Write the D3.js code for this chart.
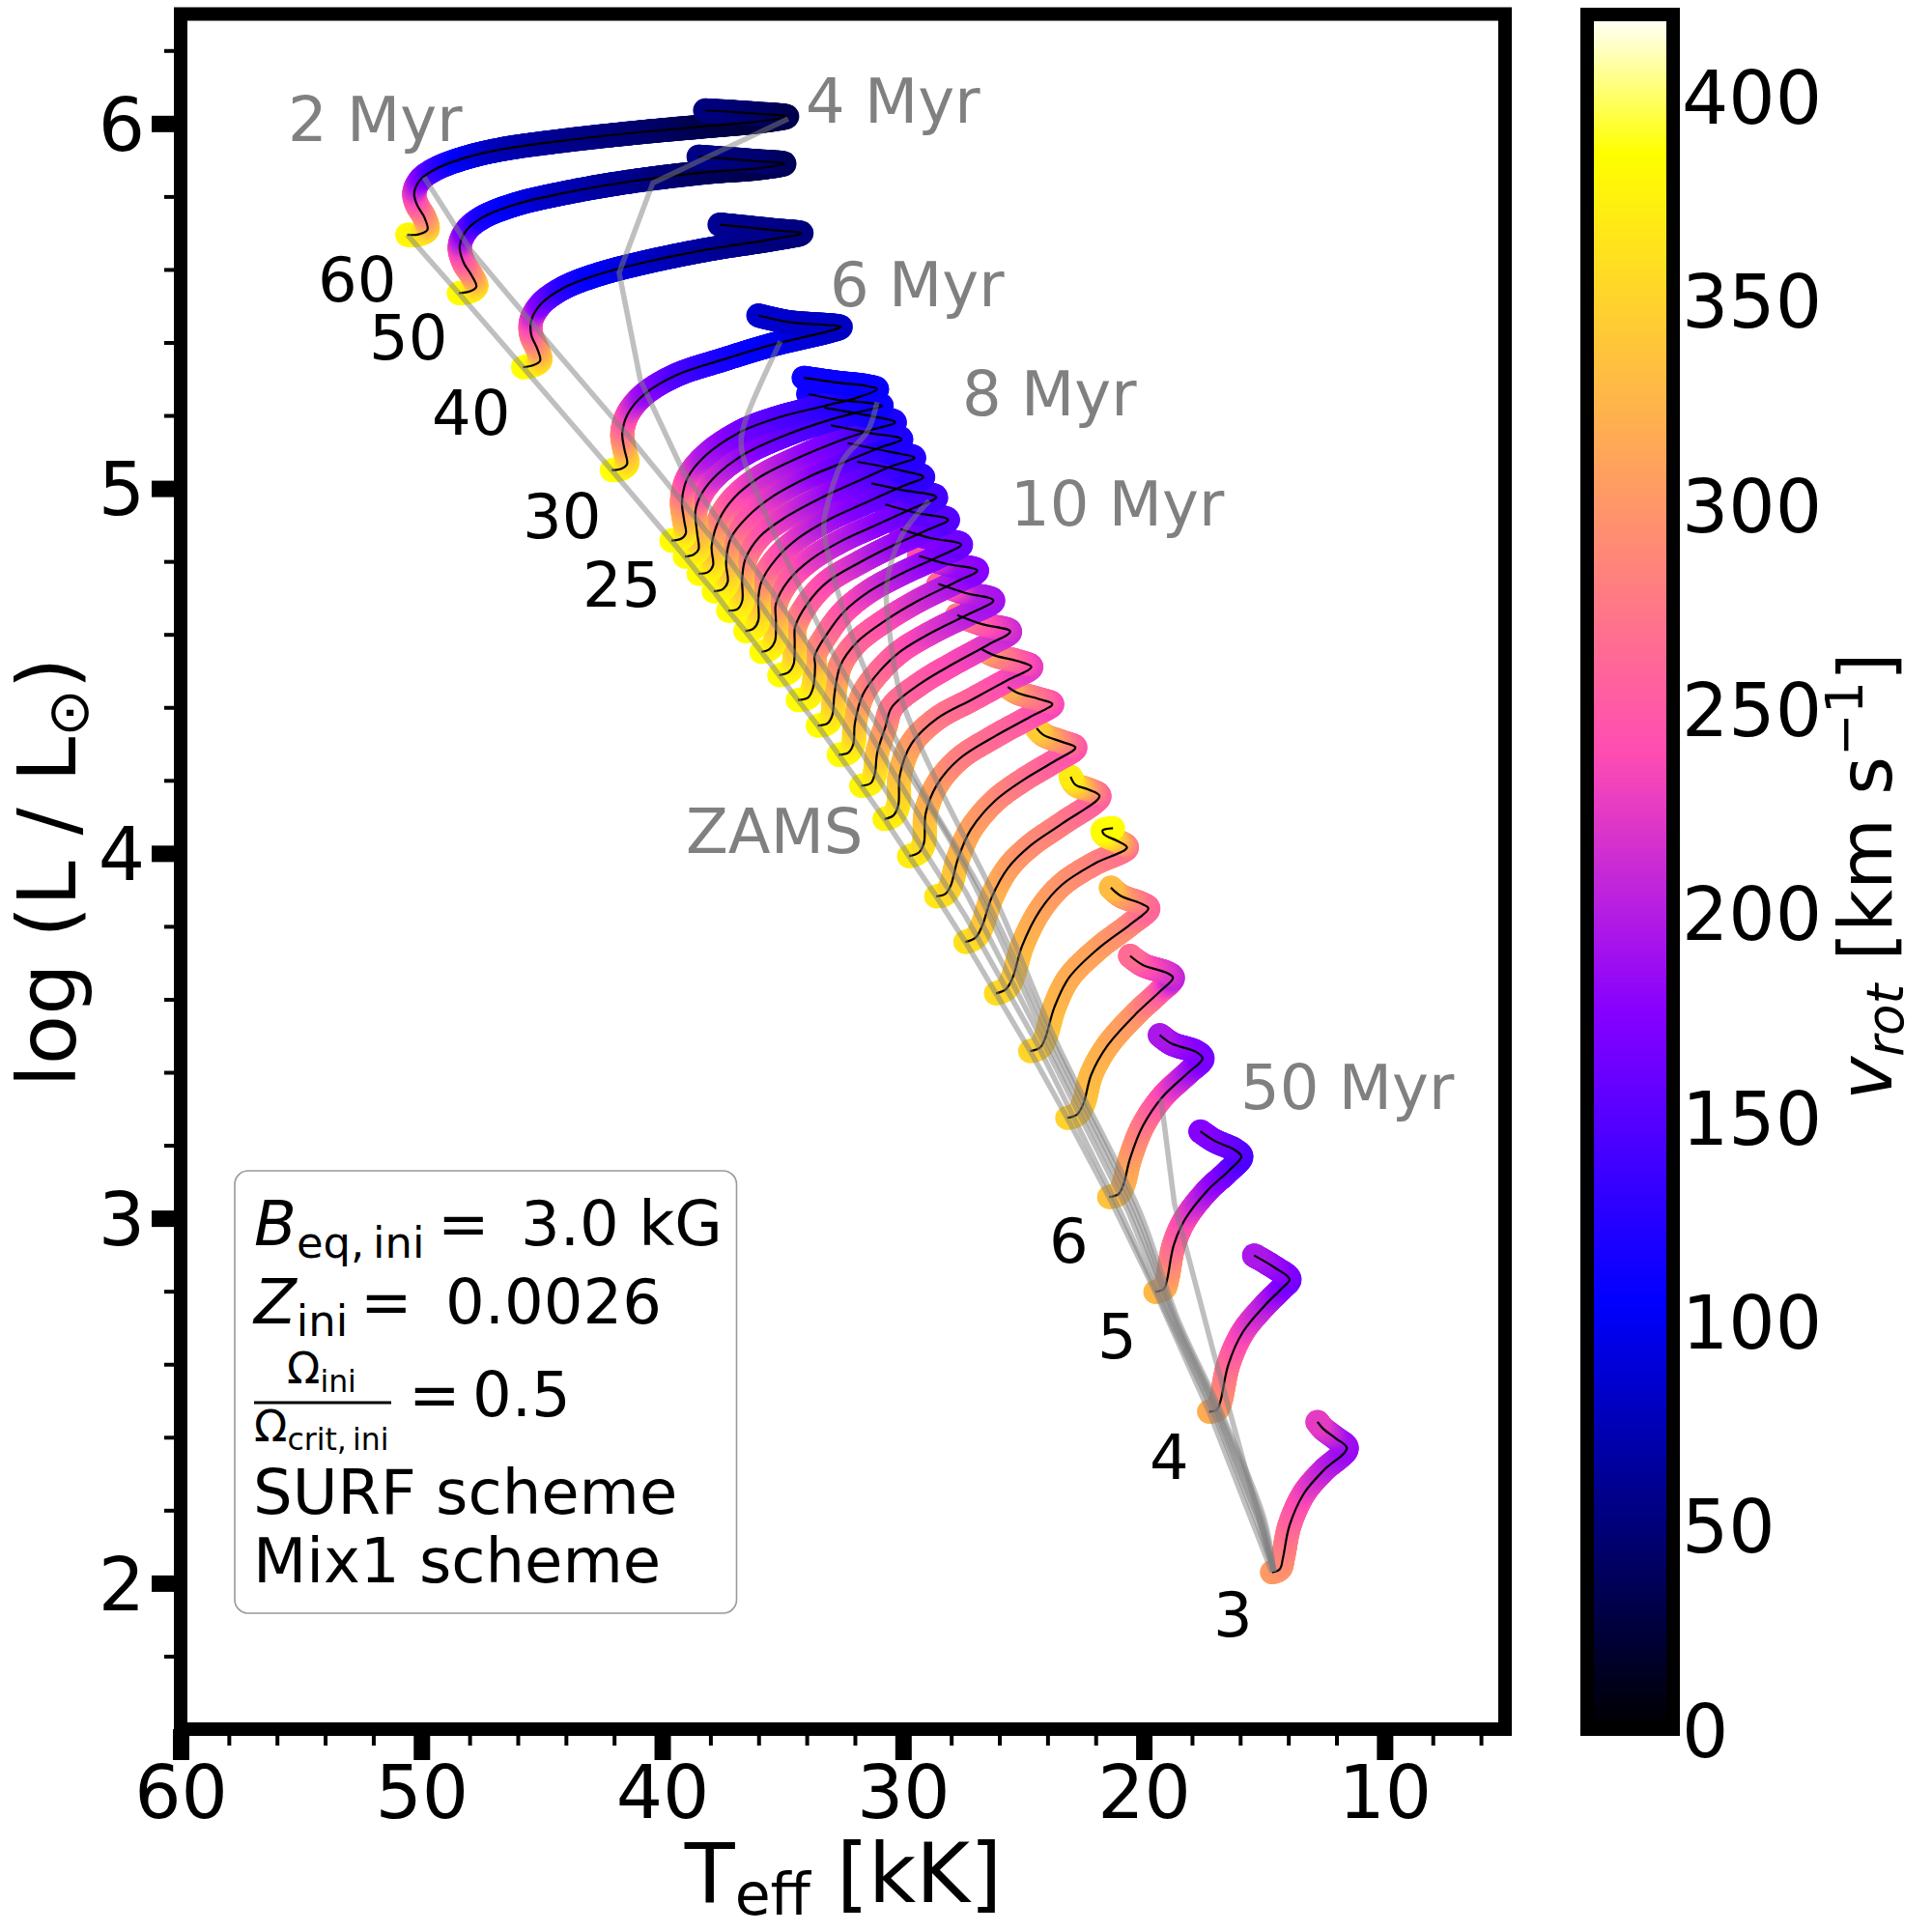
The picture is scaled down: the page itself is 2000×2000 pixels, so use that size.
<!DOCTYPE html>
<html>
<head>
<meta charset="utf-8">
<script src="https://d3js.org/d3.v7.min.js"></script>
<style>
  body { margin: 0; background: #fff; }
  text { font-family: "DejaVu Sans"; }
</style>
</head>
<body>
<svg id="chart" width="2000" height="2000"></svg>
<script>
// evolutionary tracks, one set of arrays per initial mass: Teff [kK], log L, vrot [km/s]
var T3 = [14.68,14.35,14.22,13.95,13.35,12.55,11.57,12.01,12.55,12.79];
var L3 = [2.030,2.039,2.070,2.158,2.246,2.308,2.370,2.396,2.423,2.442];
var V3 = [305,300,290,265,235,210,185,190,215,225];
var T4 = [17.29,16.96,16.82,16.49,15.89,14.95,14.28,13.95,14.55,15.42];
var L4 = [2.470,2.476,2.498,2.599,2.688,2.763,2.807,2.833,2.864,2.898];
var V4 = [320,315,300,270,235,205,180,165,180,195];
var T5 = [19.52,19.16,19.03,18.76,18.29,17.36,16.49,15.95,16.22,17.09,17.65];
var L5 = [2.798,2.807,2.833,2.926,2.997,3.076,3.129,3.169,3.187,3.213,3.238];
var V5 = [330,325,310,270,240,195,165,145,150,165,175];
var T6 = [21.44,21.04,20.84,20.57,20.04,19.23,18.17,17.56,17.83,18.83,19.34];
var L6 = [3.058,3.067,3.094,3.164,3.253,3.332,3.398,3.438,3.456,3.478,3.502];
var V6 = [338,335,325,310,280,245,200,170,170,185,195];
var T7 = [23.18,22.78,22.51,22.18,21.51,20.30,19.37,18.79,19.03,20.04,20.57];
var L7 = [3.275,3.284,3.314,3.394,3.473,3.562,3.619,3.659,3.672,3.694,3.719];
var V7 = [350,348,340,330,320,300,260,205,215,240,265];
var T8 = [24.72,24.32,24.11,23.71,23.11,21.91,20.57,19.81,20.10,20.97,21.37];
var L8 = [3.458,3.467,3.491,3.579,3.659,3.738,3.805,3.849,3.862,3.884,3.906];
var V8 = [352,350,345,330,320,310,290,260,265,300,330];
var T9 = [26.14,25.72,25.45,25.05,24.31,23.38,22.04,20.70,21.10,21.64,21.71,21.28];
var L9 = [3.616,3.628,3.659,3.747,3.844,3.915,3.972,4.016,4.034,4.051,4.063,4.069];
var V9 = [358,355,345,330,315,300,285,270,320,370,385,385];
var T10 = [27.41,26.99,26.72,26.32,25.65,24.71,23.38,21.84,22.31,22.84,23.04];
var L10 = [3.757,3.769,3.800,3.879,3.959,4.021,4.082,4.157,4.175,4.188,4.210];
var V10 = [362,360,345,330,310,295,280,255,290,340,370];
var T11 = [28.62,28.26,28.03,27.72,27.19,26.18,24.98,23.64,22.84,23.38,24.18,24.45];
var L11 = [3.882,3.888,3.910,3.985,4.065,4.144,4.202,4.255,4.290,4.305,4.325,4.343];
var V11 = [368,365,352,332,312,295,275,255,245,275,320,345];
var T12 = [29.75,29.33,29.13,29.06,28.59,27.66,26.18,24.71,23.80,24.31,25.25,25.65];
var L12 = [3.992,4.003,4.029,4.109,4.188,4.259,4.321,4.374,4.409,4.422,4.440,4.456];
var V12 = [372,370,358,335,310,285,265,250,235,260,290,320];
var T13 = [30.77,30.40,30.20,30.13,29.66,28.59,27.12,25.65,24.67,25.25,26.18,26.72];
var L13 = [4.094,4.104,4.131,4.215,4.299,4.369,4.422,4.475,4.511,4.527,4.542,4.559];
var V13 = [378,376,365,338,310,280,260,240,225,245,280,310];
var T14 = [31.74,31.33,31.17,31.07,30.73,30.47,29.26,27.92,26.45,25.55,26.72,27.75];
var L14 = [4.185,4.193,4.219,4.276,4.347,4.400,4.466,4.519,4.572,4.608,4.628,4.653];
var V14 = [380,378,368,340,305,275,255,240,225,210,240,280];
var T15 = [32.67,32.27,32.07,32.00,31.67,31.00,30.07,28.73,27.26,26.25,27.39,28.53];
var L15 = [4.270,4.276,4.298,4.356,4.435,4.497,4.555,4.608,4.656,4.693,4.713,4.738];
var V15 = [385,383,372,342,300,270,250,225,205,190,200,260];
var T16 = [33.54,33.14,32.94,32.85,32.60,31.94,30.73,29.40,27.79,26.92,28.19,29.33];
var L16 = [4.350,4.356,4.378,4.435,4.515,4.577,4.638,4.691,4.744,4.775,4.793,4.815];
var V16 = [385,383,372,342,295,265,245,220,195,175,185,240];
var T17 = [34.37,33.94,33.74,33.65,33.67,33.14,32.47,31.40,30.07,28.46,27.59,28.86,30.10];
var L17 = [4.420,4.427,4.453,4.515,4.541,4.603,4.661,4.718,4.766,4.815,4.846,4.864,4.888];
var V17 = [385,383,372,340,315,275,250,225,200,175,160,170,190];
var T18 = [35.14,34.74,34.54,34.50,34.48,33.94,33.14,31.80,30.47,29.00,28.13,29.53,30.73];
var L18 = [4.488,4.497,4.519,4.577,4.621,4.687,4.744,4.797,4.842,4.886,4.914,4.934,4.956];
var V18 = [385,383,372,338,312,265,240,215,190,165,150,155,165];
var T19 = [35.88,35.55,35.32,35.28,35.28,34.74,33.81,32.47,31.00,29.53,28.62,30.07,31.31];
var L19 = [4.552,4.559,4.581,4.638,4.683,4.749,4.806,4.859,4.903,4.947,4.976,4.996,5.014];
var V19 = [385,383,372,336,305,260,230,205,180,155,140,145,150];
var T20 = [36.55,36.21,36.01,36.01,35.88,35.28,34.34,33.01,31.54,30.07,29.16,30.07,31.90];
var L20 = [4.609,4.616,4.638,4.700,4.744,4.806,4.864,4.917,4.961,5.005,5.031,5.049,5.073];
var V20 = [385,383,372,336,302,255,225,195,170,145,130,130,135];
var T21 = [37.26,36.88,36.68,36.68,36.55,35.95,34.88,33.41,31.94,30.47,29.53,30.47,32.31];
var L21 = [4.665,4.669,4.691,4.753,4.806,4.868,4.921,4.974,5.018,5.061,5.084,5.099,5.124];
var V21 = [385,383,372,334,298,255,225,195,165,140,125,125,130];
var T22 = [37.86,37.48,37.28,37.35,37.15,36.48,35.41,33.94,32.47,31.00,30.07,31.40,33.00];
var L22 = [4.718,4.724,4.744,4.797,4.864,4.921,4.978,5.031,5.071,5.111,5.135,5.152,5.173];
var V22 = [385,383,372,334,295,255,225,190,160,135,120,122,125];
var T23 = [38.49,38.09,37.89,37.95,37.62,37.02,35.95,34.34,32.74,31.27,30.33,31.40,33.27];
var L23 = [4.766,4.771,4.789,4.842,4.917,4.974,5.031,5.084,5.128,5.161,5.181,5.199,5.221];
var V23 = [385,383,372,334,292,250,220,190,165,140,122,115,118];
var T24 = [39.06,38.69,38.49,38.55,38.62,38.35,37.69,36.48,34.88,33.14,31.67,30.87,31.40,32.74,33.94];
var L24 = [4.813,4.819,4.833,4.877,4.939,4.987,5.040,5.098,5.146,5.186,5.212,5.226,5.234,5.243,5.259];
var V24 = [385,383,372,336,300,250,215,185,160,140,120,112,112,112,114];
var T25 = [39.62,39.22,39.02,39.09,39.18,38.96,38.22,36.75,35.15,33.27,31.94,31.07,31.54,32.74,34.12];
var L25 = [4.857,4.862,4.877,4.912,4.965,5.027,5.089,5.155,5.195,5.226,5.248,5.272,5.281,5.290,5.303];
var V25 = [385,383,372,336,298,245,200,170,150,130,115,110,110,110,112];
var T30 = [42.10,41.70,41.46,41.57,41.66,41.43,40.76,39.43,37.42,35.42,33.01,32.58,34.77,36.01];
var L30 = [5.050,5.054,5.067,5.107,5.151,5.204,5.257,5.310,5.354,5.394,5.432,5.442,5.456,5.474];
var V30 = [390,385,368,330,285,240,190,150,120,100,85,80,82,85];
var T40 = [45.78,45.38,45.07,45.18,45.44,45.44,45.04,44.11,42.77,40.76,38.09,35.42,34.21,35.42,37.62];
var L40 = [5.332,5.337,5.350,5.381,5.421,5.460,5.505,5.549,5.584,5.619,5.655,5.683,5.699,5.708,5.723];
var V40 = [388,385,360,320,275,235,180,130,105,85,65,52,50,55,60];
var T50 = [48.45,47.98,47.72,47.92,48.25,48.41,48.12,47.45,46.11,44.11,41.43,38.09,36.08,34.91,36.08,38.49];
var L50 = [5.535,5.540,5.553,5.584,5.619,5.664,5.708,5.743,5.778,5.809,5.840,5.867,5.877,5.890,5.897,5.909];
var V50 = [385,382,362,310,268,230,170,120,100,78,60,40,32,35,45,55];
var T60 = [50.59,50.12,49.75,49.88,50.19,50.30,50.06,49.45,48.38,46.78,44.11,40.76,38.09,36.08,34.81,36.08,38.22];
var L60 = [5.695,5.696,5.709,5.743,5.778,5.809,5.845,5.874,5.902,5.928,5.953,5.977,5.993,6.005,6.019,6.027,6.036];
var V60 = [382,378,355,305,265,235,190,140,105,78,60,46,32,26,30,40,52];

var masses = [3,4,5,6,7,8,9,10,11,12,13,14,15,16,17,18,19,20,21,22,23,24,25,30,40,50,60];
var trackT = [T3,T4,T5,T6,T7,T8,T9,T10,T11,T12,T13,T14,T15,T16,T17,T18,T19,T20,T21,T22,T23,T24,T25,T30,T40,T50,T60];
var trackL = [L3,L4,L5,L6,L7,L8,L9,L10,L11,L12,L13,L14,L15,L16,L17,L18,L19,L20,L21,L22,L23,L24,L25,L30,L40,L50,L60];
var trackV = [V3,V4,V5,V6,V7,V8,V9,V10,V11,V12,V13,V14,V15,V16,V17,V18,V19,V20,V21,V22,V23,V24,V25,V30,V40,V50,V60];

// isochrones
var iso2T = [49.89,47.97,45.04,41.15,37.30,32.60,27.39,24.46,20.97,18.97,17.12,15.36,14.60];
var iso2L = [5.853,5.654,5.424,5.124,4.812,4.369,3.826,3.482,3.018,2.727,2.470,2.176,2.032];
var iso4T = [34.77,40.39,41.79,40.91,39.10,35.41,31.40,27.39,24.18,20.65,18.85,17.04,15.24,14.60];
var iso4L = [6.013,5.837,5.591,5.297,5.042,4.714,4.330,3.893,3.482,3.018,2.727,2.470,2.176,2.032];
var iso6T = [35.09,36.62,36.70,35.93,34.33,32.48,30.20,27.39,23.98,20.49,18.77,16.96,15.16,14.60];
var iso6L = [5.403,5.170,5.106,4.965,4.735,4.497,4.264,3.959,3.482,3.018,2.727,2.470,2.176,2.032];
var iso8T = [31.08,31.48,32.48,33.13,33.29,32.72,31.28,29.40,26.59,23.78,20.33,18.69,16.88,15.08,14.60];
var iso8L = [5.236,5.156,5.079,4.958,4.894,4.719,4.454,4.197,3.879,3.482,3.018,2.727,2.470,2.176,2.032];
var iso10T = [28.91,30.08,30.68,30.60,30.08,28.47,26.19,23.62,20.17,18.61,16.80,15.00,14.60];
var iso10L = [4.966,4.868,4.735,4.629,4.428,4.179,3.879,3.482,3.018,2.727,2.470,2.176,2.032];
var iso50T = [19.29,18.73,17.08,14.60];
var iso50L = [3.328,3.040,2.626,2.032];

var xTicks = [60,50,40,30,20,10];
var xMinor = [58,56,54,52,48,46,44,42,38,36,34,32,28,26,24,22,18,16,14,12,8,6];
var yTicks = [2,3,4,5,6];
var yMinor = [1.8,2.2,2.4,2.6,2.8,3.2,3.4,3.6,3.8,4.2,4.4,4.6,4.8,5.2,5.4,5.6,5.8,6.2];
var cbTicks = [0,50,100,150,200,250,300,350,400];

var svg = d3.select("#chart");

var x = d3.scaleLinear().domain([60, 5]).range([187, 1558]);
var y = d3.scaleLinear().domain([1.6, 6.3]).range([1790, 14.5]);
var cbY = d3.scaleLinear().domain([0, 420]).range([1790, 15]);

// matplotlib's gnuplot2 colour map
function gnuplot2(t) {
  var r = t / 0.32 - 0.78125;
  var g = 2 * t - 0.84;
  var b = t < 0.25 ? 4 * t : (t < 0.92 ? -2 * t + 1.84 : t / 0.08 - 11.5);
  function c(v) { return Math.round(255 * Math.max(0, Math.min(1, v))); }
  return "rgb(" + c(r) + "," + c(g) + "," + c(b) + ")";
}
var color = function(v) { return gnuplot2(v / 420); };

var line = d3.line()
    .x(function(d) { return x(d.t); })
    .y(function(d) { return y(d.l); });
var trackLine = d3.line()
    .x(function(d) { return x(d.t); })
    .y(function(d) { return y(d.l); })
    .curve(d3.curveCatmullRom.alpha(0.5));

function points(ts, ls, vs) {
  return ts.map(function(t, i) { return { t: t, l: ls[i], v: vs ? vs[i] : 0 }; });
}

// ****************** tracks ***************************

var thick = svg.append("g"), thin = svg.append("g"), iso = svg.append("g");

masses.forEach(function(m, k) {
  var pts = points(trackT[k], trackL[k], trackV[k]);
  var path = thin.append("path")
      .attr("d", trackLine(pts))
      .attr("fill", "none")
      .attr("stroke", "#000")
      .attr("stroke-width", 2.2);

  // colour along the curve: knots sit at their share of the chord length
  var node = path.node(), total = node.getTotalLength();
  var cum = [0];
  for (var i = 1; i < pts.length; i++) {
    cum.push(cum[i - 1] + Math.hypot(x(pts[i].t) - x(pts[i - 1].t), y(pts[i].l) - y(pts[i - 1].l)));
  }
  var vAt = d3.scaleLinear()
      .domain(cum.map(function(c) { return c / cum[cum.length - 1] * total; }))
      .range(pts.map(function(d) { return d.v; }));

  thick.append("g").selectAll("circle")
      .data(d3.range(0, total, 1.5).concat([total]))
      .enter().append("circle")
      .attr("cx", function(s) { return node.getPointAtLength(s).x; })
      .attr("cy", function(s) { return node.getPointAtLength(s).y; })
      .attr("r", 12.5)
      .attr("fill", function(s) { return color(vAt(s)); });
});

// ****************** isochrones ***************************

// the young ones have few points at high mass, so they stay straight pieces
iso.append("path").attr("class", "iso").attr("d", line(points(iso2T, iso2L)));
iso.append("path").attr("class", "iso").attr("d", line(points(iso4T, iso4L)));
iso.append("path").attr("class", "iso").attr("d", trackLine(points(iso6T, iso6L)));
iso.append("path").attr("class", "iso").attr("d", trackLine(points(iso8T, iso8L)));
iso.append("path").attr("class", "iso").attr("d", trackLine(points(iso10T, iso10L)));
iso.append("path").attr("class", "iso").attr("d", line(points(iso50T, iso50L)));

var zams = masses.map(function(m, k) { return { t: trackT[k][0], l: trackL[k][0] }; });
iso.append("path").attr("class", "iso").attr("d", line(zams));

iso.selectAll("path.iso")
    .attr("fill", "none")
    .attr("stroke", "#808080")
    .attr("stroke-opacity", 0.5)
    .attr("stroke-width", 5.5);

// ****************** axes ***************************

function styleAxis(g, width) {
  g.select(".domain").remove();
  g.selectAll("line").attr("stroke", "#000").attr("stroke-width", width);
  g.selectAll("text").attr("font-size", 76).attr("fill", "#000").attr("font-family", "DejaVu Sans");
}

var xAxisG = svg.append("g").attr("transform", "translate(0,1790)");
xAxisG.append("g").call(d3.axisBottom(x).tickValues(xMinor).tickSize(17).tickFormat(""))
    .call(styleAxis, 4);
xAxisG.append("g").call(d3.axisBottom(x).tickValues(xTicks).tickSize(32).tickPadding(6))
    .call(styleAxis, 17);

var yAxisG = svg.append("g").attr("transform", "translate(187,0)");
yAxisG.append("g").call(d3.axisLeft(y).tickValues(yMinor).tickSize(17).tickFormat(""))
    .call(styleAxis, 4);
yAxisG.append("g").call(d3.axisLeft(y).tickValues(yTicks).tickSize(30).tickPadding(7).tickFormat(d3.format("d")))
    .call(styleAxis, 17);
yAxisG.selectAll("text").attr("dy", "0.36em");

svg.append("rect")
    .attr("x", x(60)).attr("y", y(6.3))
    .attr("width", x(5) - x(60)).attr("height", y(1.6) - y(6.3))
    .attr("fill", "none").attr("stroke", "#000").attr("stroke-width", 14);

// axis titles
var xTitle = svg.append("text").attr("x", 873).attr("y", 1969)
    .attr("text-anchor", "middle").attr("font-size", 85);
xTitle.append("tspan").text("T");
xTitle.append("tspan").attr("font-size", 60).attr("dy", 13).text("eff");
xTitle.append("tspan").attr("dy", -13).text(" [kK]");

var yTitle = svg.append("text").attr("transform", "translate(78,903) rotate(-90)")
    .attr("text-anchor", "middle").attr("font-size", 84);
yTitle.append("tspan").text("log (L / L");
yTitle.append("tspan").attr("font-size", 59).attr("dy", 13).text("\u2299");
yTitle.append("tspan").attr("dy", -13).text(")");

// ****************** colour bar ***************************

svg.append("g").selectAll("rect")
    .data(d3.range(0, 420))
    .enter().append("rect")
    .attr("x", 1643).attr("width", 89)
    .attr("y", function(v) { return cbY(v + 1); })
    .attr("height", function(v) { return cbY(v) - cbY(v + 1) + 1; })
    .attr("fill", function(v) { return color(v + 0.5); });

var cbAxis = svg.append("g").attr("transform", "translate(1739,0)")
    .call(d3.axisRight(cbY).tickValues(cbTicks).tickSize(0).tickPadding(2))
    .call(styleAxis, 0);
cbAxis.selectAll("text").attr("dy", "0.37em");

svg.append("rect")
    .attr("x", 1643).attr("y", 15).attr("width", 89).attr("height", 1775)
    .attr("fill", "none").attr("stroke", "#000").attr("stroke-width", 14);

var cbTitle = svg.append("text").attr("transform", "translate(1958,907) rotate(-90)")
    .attr("text-anchor", "middle").attr("font-size", 76);
cbTitle.append("tspan").attr("font-style", "italic").text("v");
cbTitle.append("tspan").attr("font-style", "italic").attr("font-size", 53).attr("dy", 12).text("rot");
cbTitle.append("tspan").attr("dy", -12).text(" [km s");
cbTitle.append("tspan").attr("font-size", 53).attr("dy", -30).text("\u22121");
cbTitle.append("tspan").attr("dy", 30).text("]");

// ****************** labels ***************************

function label(s, px, py, fill) {
  svg.append("text").attr("x", px).attr("y", py)
      .attr("font-size", 64).attr("fill", fill).text(s);
}
label("2 Myr", 298, 146, "#808080");
label("4 Myr", 834, 127, "#808080");
label("6 Myr", 859, 317, "#808080");
label("8 Myr", 996, 430, "#808080");
label("10 Myr", 1046, 544, "#808080");
label("50 Myr", 1284, 1148, "#808080");
label("ZAMS", 710, 883, "#808080");
label("60", 329, 312, "#000");
label("50", 382, 372, "#000");
label("40", 447, 450, "#000");
label("30", 541, 557, "#000");
label("25", 603, 628, "#000");
label("6", 1086, 1307, "#000");
label("5", 1136, 1406, "#000");
label("4", 1190, 1531, "#000");
label("3", 1256, 1694, "#000");

// ****************** parameter box ***************************

svg.append("rect")
    .attr("x", 243).attr("y", 1212).attr("width", 519.5).attr("height", 458)
    .attr("rx", 14).attr("ry", 14)
    .attr("fill", "#fff").attr("fill-opacity", 0.8)
    .attr("stroke", "#999").attr("stroke-width", 1.6);

function mathRow(px, py, size, parts) {
  var t = svg.append("text").attr("x", px).attr("y", py).attr("font-size", size);
  var shift = 0;
  parts.forEach(function(p) {
    var s = t.append("tspan").text(p.s);
    if (p.i) s.attr("font-style", "italic");
    if (p.sub) s.attr("font-size", size * 0.7);
    var want = p.sub ? size * 0.2 : 0;
    s.attr("dy", want - shift);
    shift = want;
    if (p.x !== undefined) s.attr("x", p.x);
  });
}
mathRow(263, 1289, 64, [{ s: "B", i: 1 }, { s: "eq,\u2009ini", sub: 1 }, { s: "=", x: 453 }, { s: "3.0 kG", x: 539 }]);
mathRow(263, 1370, 64, [{ s: "Z", i: 1 }, { s: "ini", sub: 1 }, { s: "=", x: 373 }, { s: "0.0026", x: 461 }]);
mathRow(297, 1432, 45, [{ s: "\u03a9" }, { s: "ini", sub: 1 }]);
mathRow(263, 1492, 45, [{ s: "\u03a9" }, { s: "crit,\u2009ini", sub: 1 }]);
svg.append("line").attr("x1", 263).attr("x2", 405).attr("y1", 1452).attr("y2", 1452)
    .attr("stroke", "#000").attr("stroke-width", 3);
mathRow(423, 1466, 64, [{ s: "=" }, { s: "0.5", x: 489 }]);
mathRow(262, 1567, 64, [{ s: "SURF scheme" }]);
mathRow(262, 1638, 64, [{ s: "Mix1 scheme" }]);
</script>
</body>
</html>
